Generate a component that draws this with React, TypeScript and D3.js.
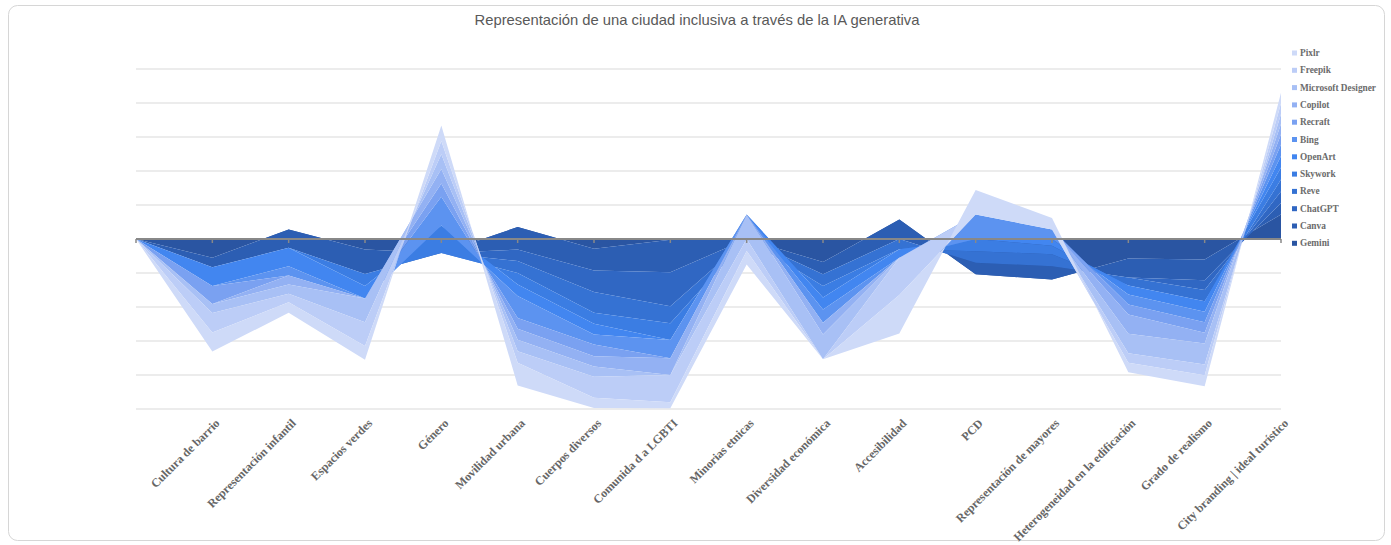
import React from "react";
import * as d3 from "d3";

const categories = [
  "",
  "Cultura de barrio",
  "Representación infantil",
  "Espacios verdes",
  "Género",
  "Movilidad urbana",
  "Cuerpos diversos",
  "Comunida d a LGBTI",
  "Minorias etnicas",
  "Diversidad económica",
  "Accesibilidad",
  "PCD",
  "Representación de mayores",
  "Heterogeneidad en la edificación",
  "Grado de realismo",
  "City branding | ideal turístico",
];

const seriesNames = [
  "Gemini",
  "Canva",
  "ChatGPT",
  "Reve",
  "Skywork",
  "OpenArt",
  "Bing",
  "Recraft",
  "Copilot",
  "Microsoft Designer",
  "Freepik",
  "Pixlr",
];

const gemini = [0, -0.55, 0.28, -0.31, -0.41, 0.35, -0.29, -0.02, 0, -0.68, 0.57, -1.04, -1.19, -0.57, -0.6, 0.72];
const canva = [0, -0.28, -0.54, -0.72, 0, -0.66, -0.64, -0.96, 0, -0.36, -0.57, 0.34, 0.39, -0.56, -0.61, 0.34];
const chatgpt = [0, 0, 0, 0, 0, -0.34, -0.63, -1.0, 0, 0, 0, 0, 0, 0, -0.29, 0.34];
const reve = [0, 0, 0, 0, 0, -0.35, -0.61, -0.5, 0, -0.34, -0.3, 0.34, 0.35, -0.24, -0.33, 0.35];
const skywork = [0, 0, 0, -0.35, 0.81, -0.34, -0.32, -0.49, 0.72, -0.34, 0, 0.36, 0.25, 0, 0, 0.35];
const openart = [0, -0.55, -0.54, -0.37, 0, -0.34, -0.32, 0, 0, -0.35, -0.25, 0, 0.2, -0.26, -0.31, 0.34];
const bing = [0, 0, -0.27, 0, 0.84, -0.64, -0.29, -0.54, 0, -0.39, 0, 0.72, 0.28, -0.3, -0.31, 0.34];
const recraft = [0, -0.53, 0, 0, 0.39, -0.32, -0.35, 0, 0, 0, 0, 0, 0, -0.29, -0.31, 0.3];
const copilot = [0, 0, -0.27, 0, 0.43, -0.32, -0.3, -0.49, 0, -0.35, 0, 0, 0, -0.57, -0.31, 0.3];
const msDesigner = [0, -0.27, -0.27, -0.7, 0.43, -0.34, -0.3, 0, -0.72, -0.73, 0, 0, 0, -0.57, -0.62, 0.3];
const freepik = [0, -0.57, -0.25, -0.7, 0.39, -0.34, -0.62, -0.8, -0.35, 0, -1.1, 0, 0, -0.28, -0.32, 0.31];
const pixlr = [0, -0.56, -0.31, -0.4, 0.46, -0.67, -0.3, -0.18, -0.4, 0, -1.13, 0.72, 0.34, -0.28, -0.32, 0.31];

const seriesValues = [gemini, canva, chatgpt, reve, skywork, openart, bing, recraft, copilot, msDesigner, freepik, pixlr];

const colors = [
  "#2a55a2",
  "#2c5eb3",
  "#3067c3",
  "#3572d3",
  "#3b7de3",
  "#4286f0",
  "#5c93f0",
  "#7aa1f1",
  "#93b1f3",
  "#a8c0f5",
  "#bccdf7",
  "#cedaf8",
];

const yTicks = [-5, -4, -3, -2, -1, 0, 1, 2, 3, 4, 5];

const W = 1391;
const H = 545;

export default function App() {
  const rows = categories.map((c, i) => {
    const r: any = { cat: c };
    seriesNames.forEach((s, j) => (r[s] = seriesValues[j][i]));
    return r;
  });

  const stack = d3.stack<any>().keys(seriesNames).order(d3.stackOrderNone).offset(d3.stackOffsetNone);
  const stacked = stack(rows);

  const x = d3.scalePoint<string>().domain(categories).range([136, 1281]);
  const y = d3.scaleLinear().domain([-5, 5]).range([409, 69]);

  const area = d3
    .area<any>()
    .x((d: any) => x(d.data.cat) as number)
    .y0((d: any) => y(d[0]))
    .y1((d: any) => y(d[1]));

  const legendOrder = seriesNames.map((s, i) => ({ s, c: colors[i] })).reverse();

  return (
    <svg width={W} height={H} style={{ position: "absolute", left: 0, top: 0 }}>
      <rect x={8.5} y={5.5} width={1376} height={535} rx={9} fill="#ffffff" stroke="#d6d6d6" />
      <text
        x={697}
        y={25}
        textAnchor="middle"
        fontFamily="'Liberation Sans', Arial, sans-serif"
        fontSize={14.8}
        fill="#595959"
      >
        Representación de una ciudad inclusiva a través de la IA generativa
      </text>
      {yTicks
        .filter((t) => t !== 0)
        .map((t) => (
          <line key={t} x1={136} x2={1281} y1={y(t)} y2={y(t)} stroke="#d9d9d9" strokeWidth={1} />
        ))}
      {stacked.map((s, i) => (
        <path key={s.key} d={area(s as any) as string} fill={colors[i]} />
      ))}
      <line x1={136} x2={1281} y1={y(0)} y2={y(0)} stroke="#888888" strokeWidth={2} />
      {categories.map((c) => (
        <line
          key={"t" + c}
          x1={x(c) as number}
          x2={x(c) as number}
          y1={y(0)}
          y2={y(0) + 4}
          stroke="#888888"
          strokeWidth={1.5}
        />
      ))}
      {categories.map((c) =>
        c === "" ? null : (
          <text
            key={"l" + c}
            transform={`translate(${(x(c) as number) + 8},${424}) rotate(-45)`}
            textAnchor="end"
            fontFamily="'Liberation Serif', 'Times New Roman', serif"
            fontWeight="bold"
            fontSize={12}
            fill="#666666"
          >
            {c}
          </text>
        )
      )}
      {legendOrder.map((l, i) => (
        <g key={l.s} transform={`translate(1292,${53 + i * 17.3})`}>
          <rect x={0} y={-2.5} width={5} height={5} fill={l.c} />
          <text
            x={8}
            y={3}
            fontFamily="'Liberation Serif', 'Times New Roman', serif"
            fontWeight="bold"
            fontSize={9.3}
            fill="#6b6b6b"
          >
            {l.s}
          </text>
        </g>
      ))}
    </svg>
  );
}
